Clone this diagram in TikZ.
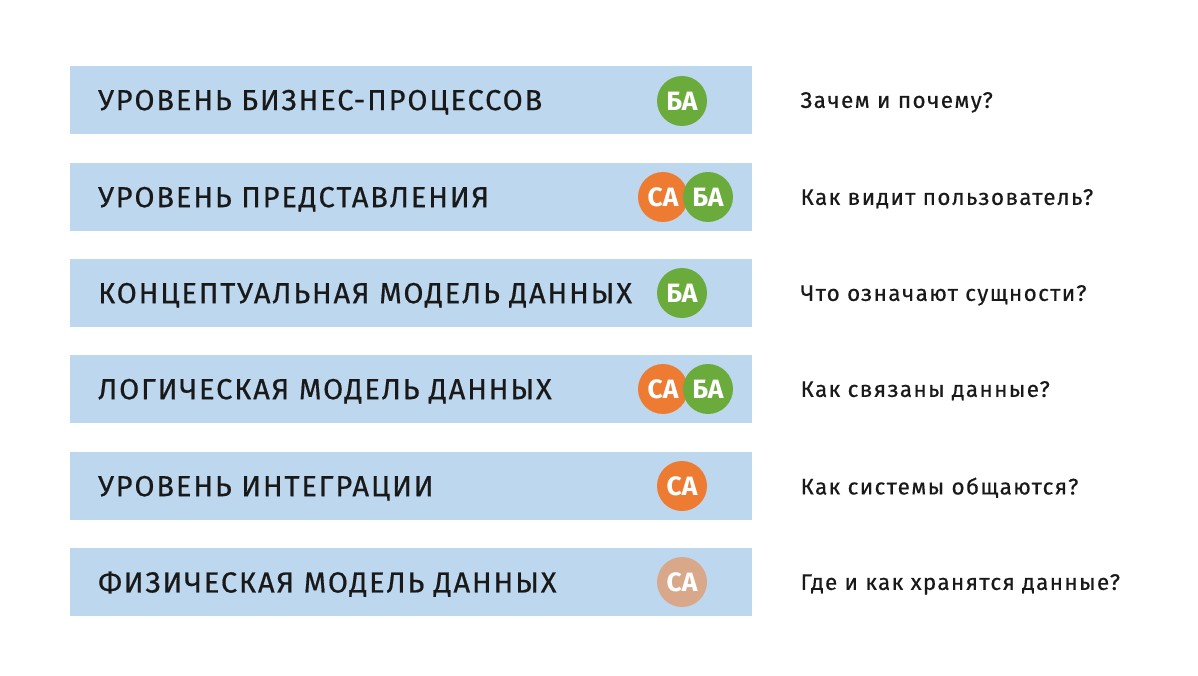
\documentclass[tikz,border=0pt]{standalone}
\usepackage{fontspec}
\setmainfont{Fira Sans}
\newfontfamily\barfont[LetterSpace=6.5,FakeBold=0.6]{Fira Sans}
\newfontfamily\askfont[LetterSpace=6,FakeBold=0.4]{Fira Sans}
\usepackage{xcolor}
\usepackage{tikz}
\usetikzlibrary{positioning}
\definecolor{barblue}{HTML}{BDD7EE}
\definecolor{bagreen}{HTML}{6AAB3C}
\definecolor{saorange}{HTML}{EE7B32}
\definecolor{safaded}{HTML}{D9A88A}
\tikzstyle{bar} = [fill=barblue,rectangle,anchor=west,minimum width=682pt,minimum height=68pt,text width=626pt,inner xsep=28pt,align=left,text depth=0pt,font=\barfont\fontsize{29}{31}\selectfont,text=black!90]
\tikzstyle{badge} = [circle,minimum size=50pt,inner sep=0pt,text=white,text depth=0pt,font=\bfseries\fontsize{26.5}{28}\selectfont]
\tikzstyle{question} = [anchor=west,inner sep=0pt,text depth=0pt,font=\askfont\fontsize{22.5}{24}\selectfont,text=black!90]

\begin{document}
\begin{tikzpicture}[x=1pt,y=-1pt]
            % canvas
            \useasboundingbox (0,0) rectangle (1198,676);
            % levels
            \node[bar] (l1) at (70,100) {УРОВЕНЬ БИЗНЕС-ПРОЦЕССОВ};
            \node[bar] (l2) at (70,197) {УРОВЕНЬ ПРЕДСТАВЛЕНИЯ};
            \node[bar] (l3) at (70,293) {КОНЦЕПТУАЛЬНАЯ МОДЕЛЬ ДАННЫХ};
            \node[bar] (l4) at (70,389) {ЛОГИЧЕСКАЯ МОДЕЛЬ ДАННЫХ};
            \node[bar] (l5) at (70,486) {УРОВЕНЬ ИНТЕГРАЦИИ};
            \node[bar] (l6) at (70,582) {ФИЗИЧЕСКАЯ МОДЕЛЬ ДАННЫХ};
            % roles
            \node[badge,fill=bagreen] (ba1) at (682,101) {БА};
            \node[badge,fill=saorange] (sa2) at (663,197) {СА};
            \node[badge,fill=bagreen] (ba2) at (708,197) {БА};
            \node[badge,fill=bagreen] (ba3) at (682,293) {БА};
            \node[badge,fill=saorange] (sa4) at (663,389) {СА};
            \node[badge,fill=bagreen] (ba4) at (708,389) {БА};
            \node[badge,fill=saorange] (sa5) at (682,486) {СА};
            \node[badge,fill=safaded] (sa6) at (682,582) {СА};
            % questions
            \node[question,right=48pt of l1] (q1) {Зачем и почему?};
            \node[question,right=48pt of l2] (q2) {Как видит пользователь?};
            \node[question,right=48pt of l3] (q3) {Что означают сущности?};
            \node[question,right=48pt of l4] (q4) {Как связаны данные?};
            \node[question,right=48pt of l5] (q5) {Как системы общаются?};
            \node[question,right=48pt of l6] (q6) {Где и как хранятся данные?};
        \end{tikzpicture}
\end{document}
